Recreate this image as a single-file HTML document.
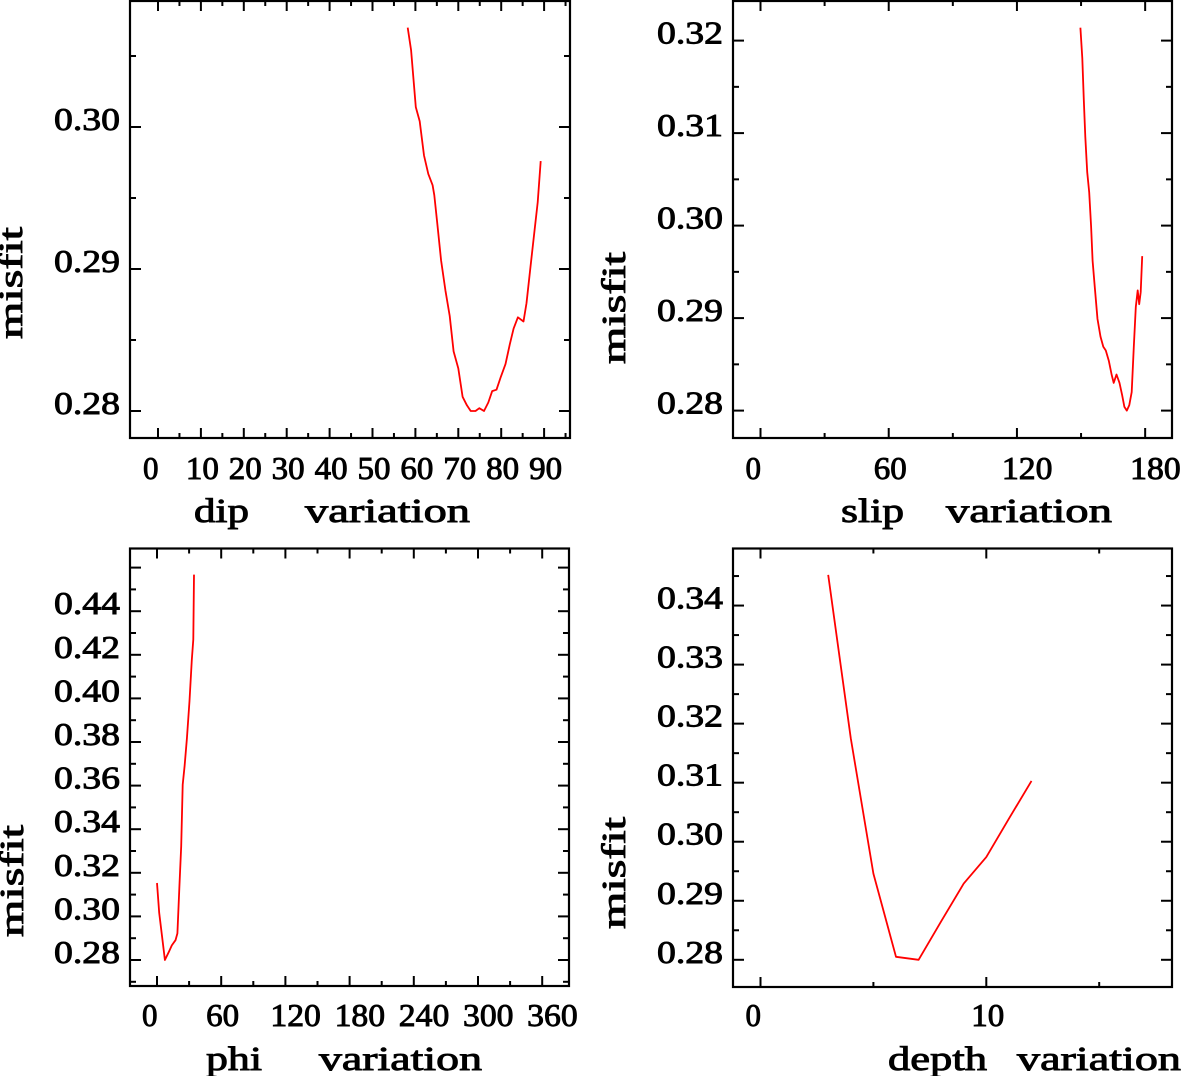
<!DOCTYPE html>
<html><head><meta charset="utf-8"><style>
html,body{margin:0;padding:0;background:#fff;}
svg{display:block;}
text{font-family:"Liberation Serif",serif;font-weight:normal;fill:#000;stroke:#000;stroke-width:0.9;}
</style></head>
<body>
<svg id="fig" width="1183" height="1076" viewBox="0 0 1183 1076" xmlns="http://www.w3.org/2000/svg"></svg>
<script>
// ---- data ----
const dipX = [58.2,59.0,60.1,61.0,62.0,63.0,64.0,64.4,65.1,66.0,67.0,68.0,68.9,70.0,71.0,72.0,72.9,74.0,74.9,76.0,77.0,77.9,78.9,79.9,81.0,82.0,82.9,83.9,85.2,85.9,86.8,87.7,88.5,89.2];
const dipY = [0.3070,0.3054,0.3014,0.3004,0.2980,0.2967,0.2959,0.2952,0.2932,0.2906,0.2885,0.2867,0.2842,0.2830,0.2810,0.2804,0.2800,0.2800,0.2802,0.2800,0.2806,0.2814,0.2815,0.2824,0.2833,0.2847,0.2858,0.2866,0.2863,0.2876,0.2901,0.2925,0.2947,0.2976];
const slipX = [149.7,150.6,151.3,152.0,152.9,153.8,154.7,155.4,156.5,157.7,159.1,160.4,161.6,163.0,164.3,165.3,166.6,168.0,169.2,170.3,171.4,172.6,173.7,174.7,175.6,176.5,177.2,177.9,178.6];
const slipY = [0.3214,0.3181,0.3136,0.3096,0.3058,0.3036,0.2999,0.2962,0.2932,0.2899,0.2880,0.2869,0.2865,0.2854,0.2839,0.2830,0.2839,0.2830,0.2817,0.2804,0.2800,0.2806,0.2820,0.2869,0.2912,0.2930,0.2915,0.2928,0.2967];
const phiX = [0,2.1,4.6,7.4,10.9,13.8,17.3,19.1,20.8,22.6,24.0,25.8,27.9,30.4,32.5,33.9,34.6];
const phiY = [0.3153,0.3016,0.2914,0.2800,0.2836,0.2867,0.2891,0.2922,0.3126,0.3322,0.3604,0.3690,0.3816,0.3988,0.4176,0.4270,0.4568];
const depthX = [3,4,5,6,7,8,9,10,11,12];
const depthY = [0.3452,0.3175,0.2946,0.2805,0.2800,0.2865,0.2929,0.2974,0.3039,0.3103];

const dipTicks = [0,10,20,30,40,50,60,70,80,90];
const slipTicks = [0,60,120,180];
const phiTicks = [0,60,120,180,240,300,360];
const depthTicks = [0,10];
const dipYTicks = ["0.28","0.29","0.30"];
const slipYTicks = ["0.28","0.29","0.30","0.31","0.32"];
const phiYTicks = ["0.28","0.30","0.32","0.34","0.36","0.38","0.40","0.42","0.44"];
const depthYTicks = ["0.28","0.29","0.30","0.31","0.32","0.33","0.34"];

const NS="http://www.w3.org/2000/svg";
const svg=document.getElementById('fig');
function mk(tag,attrs,parent){const e=document.createElementNS(NS,tag);for(const k in attrs)e.setAttribute(k,attrs[k]);(parent||svg).appendChild(e);return e;}

function panel(cfg){
  const g=mk('g',{});
  
  
  const sx=v=>cfg.x0+v*cfg.kx, sy=v=>cfg.y0-(v-0.28)*cfg.ky;
  const L=cfg.L,R=cfg.R,T=cfg.T,B=cfg.B;
  const fr=mk('rect',{x:L,y:T,width:R-L,height:B-T,fill:'none',stroke:'#000','stroke-width':2.2},g);
  
  
  for(let v=0; sx(v)<R; v+=cfg.xMinor){
    const major=Math.abs(v/cfg.xMajor-Math.round(v/cfg.xMajor))<1e-6;
    const len=major?10:5, x=sx(v);
    mk('line',{x1:x,y1:B,x2:x,y2:B-len,stroke:'#000','stroke-width':2},g);
    mk('line',{x1:x,y1:T,x2:x,y2:T+len,stroke:'#000','stroke-width':2},g);
  }
  cfg.xt.forEach(v=>{
    const s=String(v);
    const t=mk('text',{x:sx(v)-15,y:cfg.xLabY,'font-size':32,textLength:s.length*17.5-2,lengthAdjust:'spacingAndGlyphs'},g);
    t.textContent=s;
    
    
  });
  for(let v=cfg.yMin; sy(v)>T+1; v+=cfg.yMinor){
    const y=sy(v); if(y>B-1) continue;
    const major=Math.abs(v/cfg.yMajor-Math.round(v/cfg.yMajor))<1e-6;
    const len=major?11:6;
    mk('line',{x1:L,y1:y,x2:L+len,y2:y,stroke:'#000','stroke-width':2},g);
    mk('line',{x1:R,y1:y,x2:R-len,y2:y,stroke:'#000','stroke-width':2},g);
  }
  cfg.yt.forEach(s=>{
    const t=mk('text',{x:L-10,y:sy(parseFloat(s))+3,'font-size':32,'text-anchor':'end',textLength:66,lengthAdjust:'spacingAndGlyphs'},g);
    t.textContent=s;
    
    
  });
  const yt=mk('text',{transform:`translate(${cfg.ylx},${cfg.yly}) rotate(-90)`,'font-size':34,'text-anchor':'middle',textLength:112,lengthAdjust:'spacingAndGlyphs'},g);
  yt.textContent='misfit';
  
  
  const t1=mk('text',{x:cfg.t1[0],y:cfg.tY,'font-size':34,textLength:cfg.t1[1],lengthAdjust:'spacingAndGlyphs'},g);
  t1.textContent=cfg.title;
  
  
  const t2=mk('text',{x:cfg.t2[0],y:cfg.tY,'font-size':34,textLength:cfg.t2[1],lengthAdjust:'spacingAndGlyphs'},g);
  t2.textContent='variation';
  
  
  const pts=cfg.xs.map((v,i)=>sx(v).toFixed(1)+','+sy(cfg.ys[i]).toFixed(1)).join(' ');
  const pl=mk('polyline',{points:pts,fill:'none',stroke:'#ff0000','stroke-width':1.8,'stroke-linejoin':'round'},g);
  
  
}

panel({name:'dip',L:130,R:570,T:1,B:438,x0:158,kx:4.29,y0:411,ky:14200,xMajor:10,xMinor:5,yMajor:0.01,yMinor:0.005,yMin:0.275,
  xt:dipTicks,yt:dipYTicks,xLabY:479,ylx:22,yly:283,title:'dip',t1:[194,55],t2:[305,165],tY:522,xs:dipX,ys:dipY});
panel({name:'slip',L:733,R:1172,T:1,B:438,x0:760.5,kx:2.137,y0:410.6,ky:9250,xMajor:60,xMinor:30,yMajor:0.01,yMinor:0.005,yMin:0.275,
  xt:slipTicks,yt:slipYTicks,xLabY:479,ylx:625,yly:308,title:'slip',t1:[841,63],t2:[946,166],tY:522,xs:slipX,ys:slipY});
panel({name:'phi',L:130,R:569,T:548.5,B:986,x0:157,kx:1.07,y0:960,ky:2180,xMajor:60,xMinor:30,yMajor:0.02,yMinor:0.01,yMin:0.27,
  xt:phiTicks,yt:phiYTicks,xLabY:1026,ylx:23,yly:881,title:'phi',t1:[206,56],t2:[319,163],tY:1070,xs:phiX,ys:phiY});
panel({name:'depth',L:733,R:1172,T:548.5,B:987,x0:760.5,kx:22.58,y0:959.8,ky:5904,xMajor:10,xMinor:5,yMajor:0.01,yMinor:0.005,yMin:0.275,
  xt:depthTicks,yt:depthYTicks,xLabY:1026,ylx:625,yly:873,title:'depth',t1:[888,99],t2:[1017,164],tY:1070,xs:depthX,ys:depthY});
</script>
</body></html>
